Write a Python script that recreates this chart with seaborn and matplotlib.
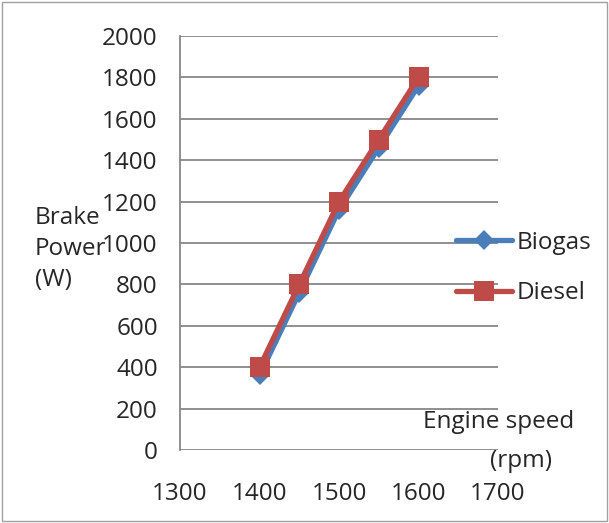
import matplotlib
matplotlib.use("Agg")
import matplotlib.pyplot as plt
import seaborn as sns
import pandas as pd

speed = [1400, 1450, 1500, 1550, 1600]
biogas = [360, 760, 1160, 1460, 1760]
diesel = [400, 800, 1200, 1500, 1800]
x_ticks = [1300, 1400, 1500, 1600, 1700]
y_ticks = list(range(0, 2001, 200))

df = pd.concat([
    pd.DataFrame({"speed": speed, "power": biogas, "fuel": "Biogas"}),
    pd.DataFrame({"speed": speed, "power": diesel, "fuel": "Diesel"}),
])

sns.set_style("white")
plt.rcParams["font.family"] = ["Open Sans", "DejaVu Sans"]

FS = 17.5
fig = plt.figure(figsize=(6.09, 5.23), dpi=100)
ax = fig.add_axes([180/609, 1-450/523, (498-180)/609, (450-36)/523])

palette = {"Biogas": "#4a7ebb", "Diesel": "#be4b48"}
sns.lineplot(data=df[df.fuel == "Biogas"], x="speed", y="power", color=palette["Biogas"],
             marker="D", linewidth=3.8, markersize=10, markeredgewidth=0,
             ax=ax, label="Biogas")
sns.lineplot(data=df[df.fuel == "Diesel"], x="speed", y="power", color=palette["Diesel"],
             marker="s", linewidth=3.8, markersize=14, markeredgewidth=0,
             ax=ax, label="Diesel")

ax.set_xlim(1300, 1700)
ax.set_ylim(0, 2000)
ax.set_xticks(x_ticks)
ax.set_yticks(y_ticks)
ax.yaxis.grid(True, color="#878787", linewidth=1.3)
ax.set_axisbelow(True)
for s in ["top", "right", "bottom"]:
    ax.spines[s].set_visible(False)
ax.spines["left"].set_color("#878787")
ax.spines["left"].set_linewidth(1.3)
ax.tick_params(axis="y", length=4, width=1.3, color="#878787",
               labelsize=FS, direction="out", pad=12)
ax.tick_params(axis="x", length=5, width=1.3, color="#878787",
               labelsize=FS, direction="in", pad=23)
ax.set_xlabel("")
ax.set_ylabel("")

fig.text(35/609, 1-249/523, "Brake\nPower\n(W)", fontsize=FS, ha="left", va="center",
         linespacing=1.4)
fig.text(499/609, 1-422/523, "Engine speed", fontsize=FS, ha="center", va="center")
fig.text(521/609, 1-461/523, "(rpm)", fontsize=FS, ha="center", va="center")

leg = ax.legend(loc="center left", bbox_to_anchor=(434/609, 1-268/523),
                bbox_transform=fig.transFigure, frameon=False, fontsize=FS,
                handlelength=2.3, handletextpad=0.2, labelspacing=1.1)

fig.patches.append(plt.Rectangle((0.003, 0.003), 0.994, 0.994, transform=fig.transFigure,
                                 fill=False, edgecolor="#a0a0a0", linewidth=1))

fig.savefig("out.png", dpi=100)
